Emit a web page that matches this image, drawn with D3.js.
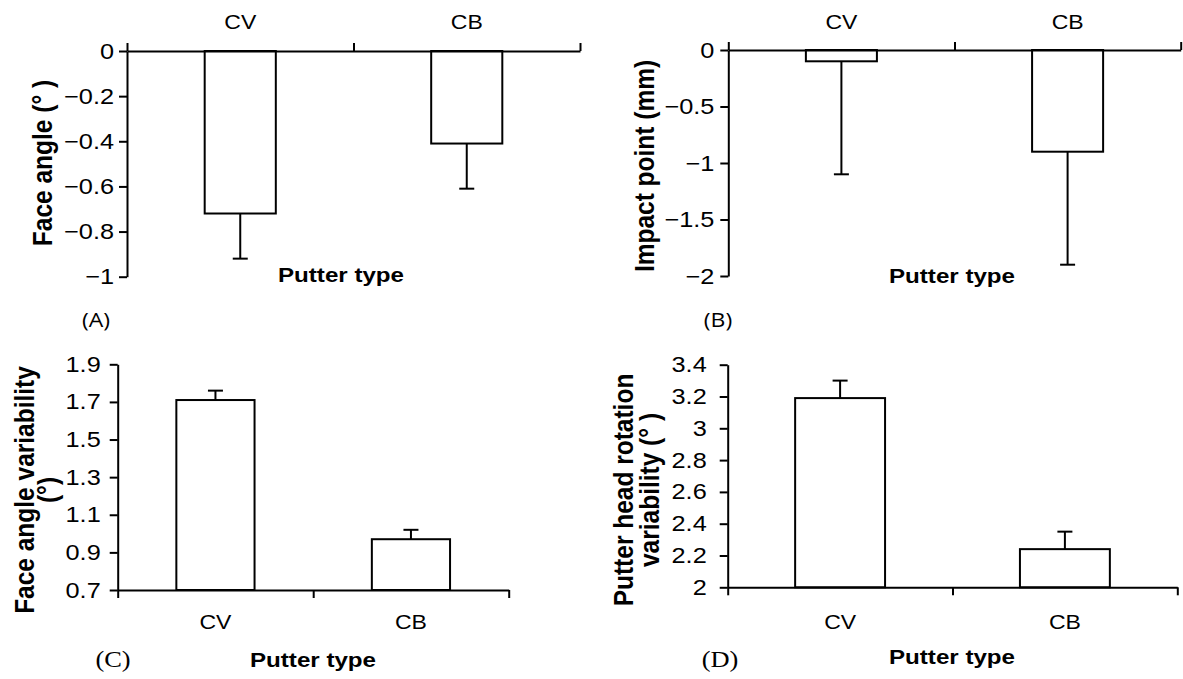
<!DOCTYPE html>
<html><head><meta charset="utf-8">
<script src="https://cdn.jsdelivr.net/npm/d3@7"></script>
<style>body{margin:0;background:#fff} svg{display:block}</style>
</head><body>
<svg id="c" width="1183" height="679"></svg>
<script>
// ---- data ----
const categories = ["CV", "CB"];
const faceAngle = [-0.72, -0.41];
const faceAngleErr = [0.20, 0.20];
const impactPoint = [-0.10, -0.90];
const impactPointErr = [1.00, 1.00];
const faceAngleVar = [1.71, 0.97];
const faceAngleVarErr = [0.05, 0.05];
const headRotVar = [3.19, 2.24];
const headRotVarErr = [0.11, 0.11];
const ticksA = [0, -0.2, -0.4, -0.6, -0.8, -1];
const ticksB = [0, -0.5, -1, -1.5, -2];
const ticksC = [0.7, 0.9, 1.1, 1.3, 1.5, 1.7, 1.9];
const ticksD = [2, 2.2, 2.4, 2.6, 2.8, 3, 3.2, 3.4];
const titleA = ["Face angle (° )"];
const titleB = ["Impact point (mm)"];
const titleC = ["Face angle variability", "(°)"];
const titleD = ["Putter head rotation", "variability (° )"];
const xTitle = "Putter type";
const panelLabels = ["(A)", "(B)", "(C)", "(D)"];

// ---- layout ----
const SX = 1.15;
const SANS = "'Liberation Sans', Arial, sans-serif";
const svg = d3.select("#c");

const panels = [
  {vals: faceAngle, errs: faceAngleErr, ticks: ticksA, domain: [-1, 0], x0: 127, x1: 580, yTop: 51, yBot: 276.7,
   r: 0.314, top: true, off: 13, catY: 29, title: titleA, tX: [52], tY: 163, xtX: 341, xtY: 282,
   label: panelLabels[0], lX: 96, lY: 327, lFont: "'Open Sans', sans-serif", lSize: 20},
  {vals: impactPoint, errs: impactPointErr, ticks: ticksB, domain: [-2, 0], x0: 728.3, x1: 1180.7, yTop: 50, yBot: 276,
   r: 0.314, top: true, off: 14, catY: 29, title: titleB, tX: [654], tY: 166, xtX: 952, xtY: 283,
   label: panelLabels[1], lX: 718, lY: 327, lFont: "'Open Sans', sans-serif", lSize: 20},
  {vals: faceAngleVar, errs: faceAngleVarErr, ticks: ticksC, domain: [0.7, 1.9], x0: 117.7, x1: 508.7, yTop: 364.3, yBot: 590,
   r: 0.4, top: false, off: 17, catY: 629, title: titleC, tX: [34, 57], tY: 490, xtX: 313, xtY: 667,
   label: panelLabels[2], lX: 113, lY: 667, lFont: "'Liberation Serif', serif", lSize: 23},
  {vals: headRotVar, errs: headRotVarErr, ticks: ticksD, domain: [2, 3.4], x0: 727.7, x1: 1177.3, yTop: 364.7, yBot: 587.3,
   r: 0.4, top: false, off: 21, catY: 629, title: titleD, tX: [633, 659], tY: 490, xtX: 952, xtY: 664,
   label: panelLabels[3], lX: 720, lY: 667, lFont: "'Liberation Serif', serif", lSize: 23}
];

function stext(g, x, y, str, size, weight, family, rot) {
  return g.append("text")
    .attr("transform", `translate(${x},${y}) scale(${SX},1)` + (rot ? " rotate(-90)" : ""))
    .attr("text-anchor", "middle")
    .attr("font-family", family || SANS)
    .attr("font-size", size)
    .attr("font-weight", weight || "normal")
    .attr("fill", "#000")
    .text(str);
}

const fmt = d => String(d).replace("-", "\u2212");

panels.forEach(p => {
  const g = svg.append("g");
  const y = d3.scaleLinear().domain(p.domain).range([p.yBot, p.yTop]);
  const xb = d3.scaleBand().domain(categories).range([p.x0, p.x1])
    .paddingInner(1 - p.r).paddingOuter((1 - p.r) / 2);
  const xl = d3.scaleLinear().domain([0, categories.length]).range([p.x0, p.x1]);
  const base = p.top ? y(0) : y(p.domain[0]);

  // bars
  g.selectAll("rect.bar").data(p.vals).join("rect")
    .attr("class", "bar")
    .attr("x", (d, i) => xb(categories[i]))
    .attr("width", xb.bandwidth())
    .attr("y", d => Math.min(y(d), base))
    .attr("height", d => Math.abs(y(d) - base))
    .attr("fill", "#fff").attr("stroke", "#000").attr("stroke-width", 2);

  // error bars
  const ends = p.vals.map((v, i) => v < 0 ? v - p.errs[i] : v + p.errs[i]);
  const cx = i => xb(categories[i]) + xb.bandwidth() / 2;
  g.selectAll("line.err").data(p.vals).join("line")
    .attr("class", "err")
    .attr("x1", (d, i) => cx(i)).attr("x2", (d, i) => cx(i))
    .attr("y1", d => y(d)).attr("y2", (d, i) => y(ends[i]))
    .attr("stroke", "#000").attr("stroke-width", 2);
  g.selectAll("line.cap").data(ends).join("line")
    .attr("class", "cap")
    .attr("x1", (d, i) => cx(i) - 7.5).attr("x2", (d, i) => cx(i) + 7.5)
    .attr("y1", d => y(d)).attr("y2", d => y(d))
    .attr("stroke", "#000").attr("stroke-width", 2);

  // y axis
  const ya = g.append("g").attr("transform", `translate(${p.x0},0)`)
    .call(d3.axisLeft(y).tickValues(p.ticks).tickSize(8).tickSizeOuter(0).tickFormat(fmt));
  ya.selectAll("path,line").attr("stroke", "#000").attr("stroke-width", 2);
  ya.selectAll("text")
    .attr("x", null)
    .attr("transform", `translate(${-p.off},0) scale(${SX},1)`)
    .attr("font-size", 22).attr("font-family", SANS).attr("fill", "#000");
  ya.attr("font-family", SANS);

  // x axis (category boundaries)
  const xa = g.append("g").attr("transform", `translate(0,${base})`)
    .call((p.top ? d3.axisTop(xl) : d3.axisBottom(xl)).tickValues([0, 1, 2]).tickSize(8).tickSizeOuter(0).tickFormat(""));
  xa.selectAll("path,line").attr("stroke", "#000").attr("stroke-width", 2);

  // category labels
  categories.forEach(c => {
    stext(g, xb(c) + xb.bandwidth() / 2, p.catY, c, 20);
  });

  // x title
  stext(g, p.xtX, p.xtY, xTitle, 21, "bold");

  // y title
  p.title.forEach((t, i) => stext(g, p.tX[i], p.tY, t, 24.5, "bold", SANS, true));

  // panel label
  stext(g, p.lX, p.lY, p.label, p.lSize, "normal", p.lFont);
});
</script>
</body></html>
